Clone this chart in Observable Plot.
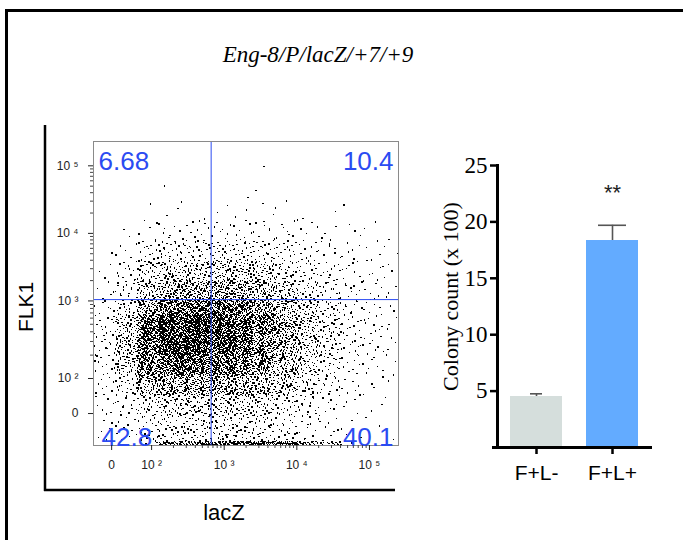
<!DOCTYPE html>
<html><head><meta charset="utf-8">
<script src="https://cdn.jsdelivr.net/npm/d3@7"></script>
<script src="https://cdn.jsdelivr.net/npm/@observablehq/plot@0.6"></script>
<style>
html,body{margin:0;padding:0;background:#fff;}
#page{position:relative;width:683px;height:540px;overflow:hidden;background:#fff;}
#page > *{position:absolute;}
</style></head><body><div id="page"></div>
<script>
// ---------------- data ----------------
const title = "Eng-8/P/lacZ/+7/+9";
const facsXLabel = "lacZ";
const facsYLabel = "FLK1";
// quadrant percentages: upper-left, upper-right, lower-left, lower-right
const quadrantLabels = ["6.68", "10.4", "42.8", "40.1"];
// axis positions are in logicle display units (decades)
const xTickValues = [1.45, 2, 3, 4, 5];
const xTickLabels = ["0", "10 ²", "10 ³", "10 ⁴", "10 ⁵"];
const yTickValues = [1.333, 1.852, 3, 4, 5];
const yTickLabels = ["0", "10 ²", "10 ³", "10 ⁴", "10 ⁵"];
const gateX = 2.82;
const gateY = 3.02;
// event counts, per density cell (rows: top to bottom)
const xBinEdges = [1.2, 1.5, 1.8, 2.1, 2.4, 2.62, 2.82, 3.1, 3.4, 3.7, 4.0, 4.3, 4.6, 4.9, 5.2, 5.4];
const yBinEdges = [5.36, 4.8, 4.5, 4.2, 3.9, 3.6, 3.3, 3.02, 2.8, 2.5, 2.2, 1.9, 1.6, 1.3, 0.92, 0.86];
const cellCounts = [
  [0,0,0,0,0,0, 0,0,1,0,0,0,0,0,0],
  [0,0,0,1,0,0, 0,1,1,0,0,0,0,0,0],
  [0,0,1,2,1,1, 2,2,2,2,1,1,1,0,0],
  [0,2,5,7,5,5, 8,8,8,7,5,4,3,2,1],
  [1,5,15,21,15,14, 21,23,20,16,11,8,6,4,2],
  [3,12,30,42,32,30, 46,46,38,28,18,12,8,6,3],
  [5,16,45,66,52,48, 72,72,58,42,26,16,10,7,3],
  [7,20,66,98,81,73, 97,91,65,44,29,16,10,7,2],
  [13,48,140,215,163,141, 181,158,120,80,47,27,13,9,3],
  [13,52,150,228,163,138, 173,150,112,76,44,27,13,9,3],
  [13,42,110,151,117,100, 132,116,88,60,40,22,9,7,3],
  [9,22,65,80,65,56, 78,75,56,44,27,16,7,4,1],
  [7,13,27,35,29,26, 37,35,31,22,16,9,4,2,1],
  [6,11,22,28,25,22, 31,31,28,20,14,8,4,2,1],
  [0,0,2,27,30,27, 37,40,40,30,20,13,3,0,0]
];
// bar chart
const groups = ["F+L-", "F+L+"];
const means = [4.52, 18.35];
const errors = [0.24, 1.35];
const barYTicks = [5, 10, 15, 20, 25];
const barYLabel = "Colony count (x 100)";
const significance = "**";

// ---------------- build ----------------
const blue = "#2b4bf2";
const page = d3.select("#page");

// stipple each density cell with its event count (low-discrepancy placement)
function radicalInverse(i, b) { let f = 1, r = 0; while (i > 0) { f /= b; r += f * (i % b); i = Math.floor(i / b); } return r; }
const events = [];
let k = 1;
cellCounts.forEach((row, r) => row.forEach((n, c) => {
  for (let j = 0; j < n; j++, k++) {
    events.push({
      x: xBinEdges[c] + radicalInverse(k, 2) * (xBinEdges[c + 1] - xBinEdges[c]),
      y: yBinEdges[r + 1] + radicalInverse(k, 3) * (yBinEdges[r] - yBinEdges[r + 1])
    });
  }
}));

// minor log ticks
const minorX = [], minorY = [];
for (let d = 2; d <= 4; d++) for (let m = 2; m <= 9; m++) minorX.push(d + Math.log10(m));
for (let m = 2; m <= 9; m++) minorY.push(yTickValues[1] + Math.log10(m) * (yTickValues[2] - yTickValues[1]));
for (let d = 3; d <= 4; d++) for (let m = 2; m <= 9; m++) minorY.push(d + Math.log10(m));

// overlay (frame lines and titles)
const ov = page.append("svg").attr("width", 683).attr("height", 540).style("left", "0px").style("top", "0px");
ov.append("rect").attr("x", 5).attr("y", 9).attr("width", 3).attr("height", 540).attr("fill", "#000");
ov.append("rect").attr("x", 5).attr("y", 9).attr("width", 700).attr("height", 3).attr("fill", "#000");
ov.append("text").attr("x", 318).attr("y", 62).attr("text-anchor", "middle")
  .attr("font-family", "Liberation Serif").attr("font-style", "italic").attr("font-size", 23).text(title);
ov.append("line").attr("x1", 45).attr("x2", 45).attr("y1", 125).attr("y2", 491).attr("stroke", "#000").attr("stroke-width", 2.5);
ov.append("line").attr("x1", 44).attr("x2", 395).attr("y1", 490).attr("y2", 490).attr("stroke", "#000").attr("stroke-width", 2.5);
ov.append("text").attr("transform", "translate(33,307) rotate(-90)").attr("text-anchor", "middle")
  .attr("font-family", "Liberation Sans").attr("font-size", 21).text(facsYLabel);
ov.append("text").attr("x", 224).attr("y", 520).attr("text-anchor", "middle")
  .attr("font-family", "Liberation Sans").attr("font-size", 22).text(facsXLabel);

// FACS dot plot
const xLab = new Map(xTickValues.map((v, i) => [v, xTickLabels[i]]));
const yLab = new Map(yTickValues.map((v, i) => [v, yTickLabels[i]]));
const quadSpecs = [["top-left", 5, 10], ["top-right", -5, 10], ["bottom-left", 8, 0], ["bottom-right", -5, 0]];
const facs = Plot.plot({
  width: 420, height: 430,
  marginLeft: 93, marginRight: 22, marginTop: 41, marginBottom: 85,
  style: {background: "transparent", overflow: "visible"},
  x: {domain: [1.2, 5.4]},
  y: {domain: [0.86, 5.36]},
  marks: [
    Plot.dot(events, {x: "x", y: "y", r: 0.8, symbol: "square", fill: "#000", shapeRendering: "crispEdges"}),
    Plot.ruleX([gateX], {stroke: blue, strokeWidth: 1}),
    Plot.ruleY([gateY], {stroke: blue, strokeWidth: 1}),
    Plot.frame({stroke: "#8a8a8a"}),
    ...quadrantLabels.map((q, i) => Plot.text([q], {
      text: d => d, frameAnchor: quadSpecs[i][0], dx: quadSpecs[i][1], dy: quadSpecs[i][2],
      fontSize: 26, fill: blue, fontFamily: "Liberation Sans"
    })),
    Plot.axisY(yTickValues, {tickFormat: d => yLab.get(d), tickSize: 5, tickPadding: 10, fontSize: 12, fontFamily: "Liberation Sans", color: "#222", label: null}),
    Plot.axisY(minorY, {tickFormat: () => "", tickSize: 3, color: "#444", label: null}),
    Plot.axisX(xTickValues, {tickFormat: d => xLab.get(d), tickSize: 5, tickPadding: 10, fontSize: 12, fontFamily: "Liberation Sans", color: "#222", label: null}),
    Plot.axisX(minorX, {tickFormat: () => "", tickSize: 3, color: "#444", label: null})
  ]
});
page.append(() => facs).style("left", "0px").style("top", "100px");

// bar chart
const bars = groups.map((g, i) => ({group: g, mean: means[i], err: errors[i]}));
const barChart = Plot.plot({
  width: 263, height: 400,
  marginLeft: 77, marginRight: 31, marginTop: 35, marginBottom: 83,
  style: {background: "transparent", overflow: "visible"},
  x: {domain: groups, paddingInner: 0.31, paddingOuter: 0.162},
  y: {domain: [0, 25]},
  color: {domain: groups, range: ["#d5dedc", "#63abff"]},
  marks: [
    Plot.barY(bars, {x: "group", y: "mean", fill: "group"}),
    Plot.ruleX(bars, {x: "group", y1: "mean", y2: d => d.mean + d.err, stroke: "#555", strokeWidth: 1.6}),
    Plot.tickY(bars.filter(d => d.group === groups[1]), {x: "group", y: d => d.mean + d.err, stroke: "#555", strokeWidth: 1.6, insetLeft: 12, insetRight: 12}),
    Plot.tickY(bars.filter(d => d.group === groups[0]), {x: "group", y: d => d.mean + d.err, stroke: "#555", strokeWidth: 1.6, insetLeft: 20, insetRight: 20}),
    Plot.text(bars.filter(d => d.group === groups[1]), {x: "group", y: d => d.mean + d.err, text: () => significance, dy: -32, fontSize: 22, fontFamily: "Liberation Sans", fill: "#222"}),
    Plot.ruleY([0], {strokeWidth: 3, insetLeft: -5}),
    Plot.frame({anchor: "left", strokeWidth: 3}),
    Plot.axisY(barYTicks, {tickSize: 7, tickPadding: 3, fontSize: 23, fontFamily: "Liberation Serif", strokeWidth: 2.5, label: null}),
    Plot.axisX({tickSize: 7, tickPadding: 11, fontSize: 21, fontFamily: "Liberation Sans", strokeWidth: 2.5, label: null}),
    Plot.text([barYLabel], {text: d => d, frameAnchor: "left", textAnchor: "middle", rotate: -90, dx: -47, dy: -10, fontSize: 22, fontFamily: "Liberation Serif"})
  ]
});
page.append(() => barChart).style("left", "420px").style("top", "130px");
</script>
</body></html>
